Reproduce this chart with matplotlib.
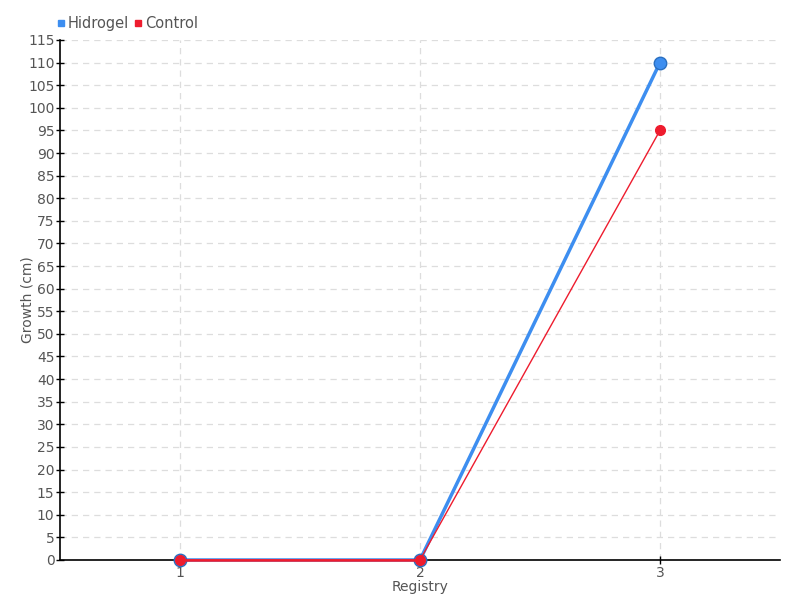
import matplotlib
matplotlib.use('Agg')
import matplotlib.pyplot as plt
from matplotlib.ticker import MultipleLocator
from matplotlib.lines import Line2D

plt.rcParams['font.family'] = ['DejaVu Sans']

registry = [1, 2, 3]
hidrogel = [0, 0, 110]
control = [0, 0, 95]

blue = '#3d8ef0'
red = '#ee1c2e'
text_gray = '#555555'

fig = plt.figure(figsize=(8, 6), dpi=100)
ax = fig.add_axes([0.075, 0.0667, 0.9, 0.8667])

ax.plot(registry, hidrogel, '-', color=blue, linewidth=2.5, marker='o', markersize=9,
        markerfacecolor=blue, markeredgecolor='#2a6fc0', markeredgewidth=1,
        zorder=3, clip_on=False)
# thicker red over the flat part, as in the reference
ax.plot(registry[:2], control[:2], '-', color=red, linewidth=1.8, zorder=4, clip_on=False)
ax.plot(registry, control, '-', color=red, linewidth=1, marker='o', markersize=7,
        markerfacecolor=red, markeredgecolor=red, zorder=5, clip_on=False)

ax.set_xlim(0.5, 3.5)
ax.set_ylim(0, 115)
ax.set_xticks(registry)
ax.yaxis.set_major_locator(MultipleLocator(5))

ax.grid(True, color='#dddddd', linestyle=(0, (5, 4)), linewidth=0.9)
ax.set_axisbelow(True)
for s in ['top', 'right']:
    ax.spines[s].set_visible(False)
for s in ['left', 'bottom']:
    ax.spines[s].set_linewidth(1.2)
ax.tick_params(axis='both', direction='inout', length=6, width=1,
               labelsize=10, labelcolor=text_gray, pad=1)

ax.set_xlabel('Registry', fontsize=10, color=text_gray)
ax.set_ylabel('Growth (cm)', fontsize=10, color=text_gray)
ax.xaxis.set_label_coords(0.5, -0.038)
ax.yaxis.set_label_coords(-0.036, 0.5)

handles = [Line2D([], [], marker='s', linestyle='', color=blue, markersize=4.5),
           Line2D([], [], marker='s', linestyle='', color=red, markersize=4.5)]
leg = fig.legend(handles, ['Hidrogel', 'Control'], loc='upper left',
                 bbox_to_anchor=(0.055, 0.995), ncol=2, frameon=False,
                 fontsize=10.5, handlelength=0.5, handletextpad=0.2, columnspacing=0.4)
for t in leg.get_texts():
    t.set_color(text_gray)

fig.savefig('out.png', dpi=100)
